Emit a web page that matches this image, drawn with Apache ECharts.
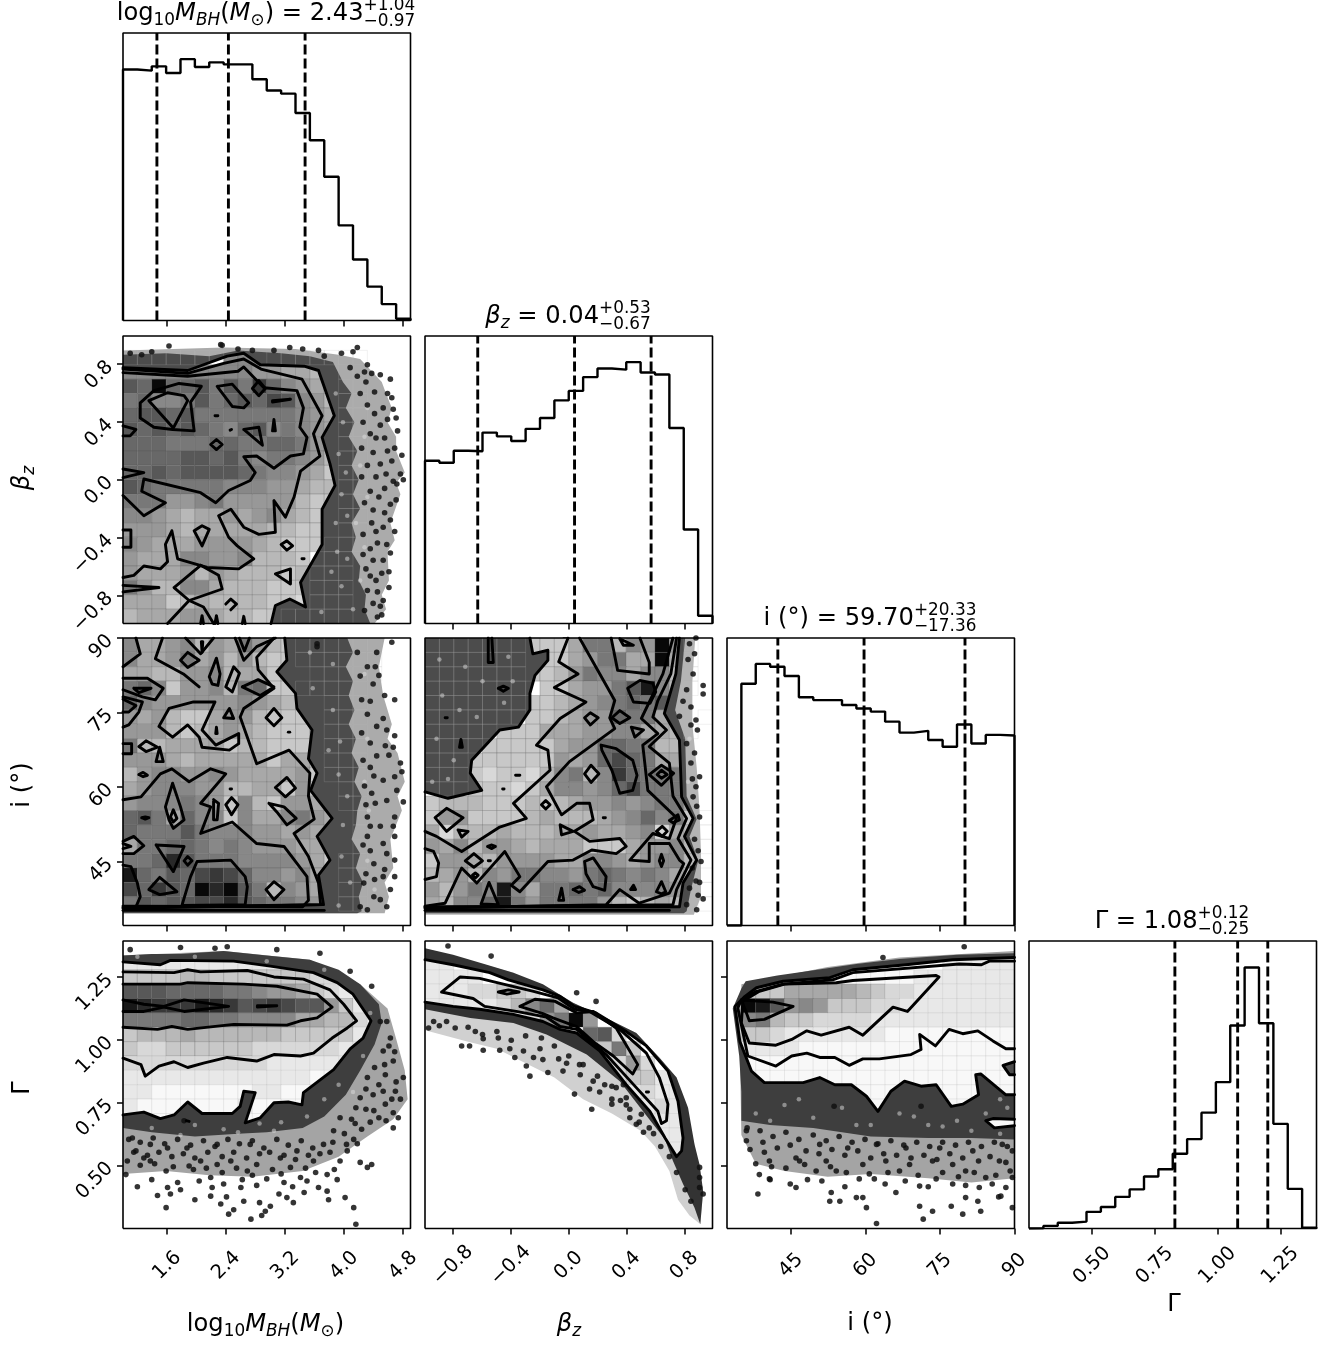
<!DOCTYPE html>
<html><head><meta charset="utf-8">
<style>html,body{margin:0;padding:0;background:#fff}#c{width:1335px;height:1345px}</style>
<script src="https://cdn.jsdelivr.net/npm/echarts@6/dist/echarts.min.js"></script>
</head><body><div id="c"></div><script>
// ---- axis ranges and ticks
const logM_range=[1.0,4.9], beta_range=[-0.995,0.995], incl_range=[32.1,90], gamma_range=[0.249,1.394];
const logM_ticks=[1.6,2.4,3.2,4.0,4.8], logM_labels=["1.6","2.4","3.2","4.0","4.8"];
const beta_ticks=[-0.8,-0.4,0,0.4,0.8], beta_labels=["\u22120.8","\u22120.4","0.0","0.4","0.8"];
const incl_ticks=[45,60,75,90], incl_labels=["45","60","75","90"];
const gamma_ticks=[0.5,0.75,1,1.25], gamma_labels=["0.50","0.75","1.00","1.25"];
// ---- 1D histograms (20 bins, height in % of panel)
const hist_logM=[87.3,86.9,88.4,86.1,90.9,88.2,89.8,89.1,89.1,83.9,80.0,78.9,72.2,62.7,50.0,33.1,21.2,11.8,5.7,0.6];
const hist_beta=[56.6,55.9,60.1,59.9,66.4,65.1,63.5,67.7,71.5,77.6,80.9,85.7,88.7,88.3,90.9,87.3,86.6,68.0,32.7,2.7];
const hist_incl=[0,84.1,91.0,90.0,86.8,79.4,78.4,78.4,76.7,75.5,74.4,70.9,67.1,67.7,64.5,62.2,69.9,63.3,66.3,66.1];
const hist_gamma=[0.1,0.9,2.0,2.4,5.8,7.5,11.0,13.6,18.1,20.6,26.0,31.1,40.3,50.9,70.6,90.8,71.4,36.4,13.8,0.3];
const q_logM=[1.46,2.43,3.47], q_beta=[-0.63,0.04,0.57], q_incl=[42.34,59.70,80.03], q_gamma=[0.83,1.08,1.20];
// ---- 2D histogram densities: one string per row, top row first; hex 0 (white)..f (black), "-" = grid only, "." = empty
const cells_beta_logM=["................","-------777-------","777777777665544--","a9f99a8a8c97654--","89778a89a9ba764--","9aa9a8888888765--","a9a9a9879a78765--","999888998899865--","9999aa9a8788764--","99a9aaaa9877653--","a98888877766544--","888667866666433--","776545565675433--","666545555544333--","76555666654333---","6555776674443---","6555646544434---","8644775444333---","5553454444332---","45556654433-----"];
const cells_incl_logM=["755674658643------","755685646433------","5544667455333-----","897366748933-----","97666666765433---","65643356643333---","66643456543333---","84455553443333---","66654555553553---","46776676555563---","567776644553634--","677787637436654--","9a85977375578653-","9888a87776656543-","5889987876665533-","889da8887777653--","e98a9bcb9776754--","b9ca9fdfa847653--","8a9aabbda988764--","................."];
const cells_incl_beta=["-------333588476f6-","-------333568855f5-","-------33468775774-","--------335668ae74-","-------334567898a64","-------334566988554-","-----3335556677554-","----333335669988443","---3333336569b98554","---3233247847c98885","---33323577679b88853","34443334345667678854","3663333454445679783-","5244454445565567254-","6574665455533356674-","36654666655776567742","4564768877689878753-","64687e7588989777763-","54779e8688886434542-","...................."];
const cells_gamma_logM=["....................","11111111111111","3333443333333221","aaa9999887665321","edcccedcabcbaa631","888899887777554421","34445444444333331","32233333322222211","2222222222111111","1111111111111000","1100000001100000","1000000010000000","0000000000100"];
const cells_gamma_beta=["....................","11","1111","11122332","1111124795","......1268f6",".........309a2","..........12383","............2262",".............2331","..............1211","...............121","...............1111","................11",".................1"];
const cells_gamma_incl=["....................","...............11111","..111000000001111111",".3335555543221111111",".fea6763332211111111",".7843322221111111111",".3321111111000000000",".1111000000000000000",".0000000000000000000",".0000000000000000000",".0000000000000000000",".0000000000000000000"];
// ---- contour vertices, in histogram-bin units (0..20 on each axis), flat x,y lists
const contours_beta_logM=[
[0,17.8,4.5,17.6,7.25,18.6,8.4,18.8,9.55,18,12.6,17.9,13.6,17.6,14.7,14.45,13.85,12.95,14.4,11.1,14.75,9.6,13.85,7.95,13.85,5.5,12.35,2.85,12.7,1.15,11.6,1.7,10.6,1.25,10.3,0],
[0,17.7,4.5,17.4,7,18.1,8.4,18.4,9.6,17.7,12.45,17,13.85,14.45,13.25,13.2,13.7,11.65,12.35,10.6,11.9,8.8,11.3,7.4,10.5,8.55,10.6,6.35,9.45,6.2,8.4,6.7,7.5,7.95,6.65,7.5,7.35,6,7.95,5.4,9.1,4.5,8.05,3.8,5.85,3.9,3.8,4.5,3.4,6.45,2.95,5.5,3.1,4.3,2.6,3.8,1.45,4,0.75,3.35,0,3.2],
[0,17.45,4.5,17.2,8,17.55,8.4,17.85,9.8,16.4,12.1,16.2,12.55,15,12.3,13.65,12.8,12.95,12.55,11.8,11.65,11.65,10.5,10.8,9.3,11.65,8.4,11.6,9.2,10.5,8.85,9.95,7.35,9.25,6.45,8.4,5.4,9.1,1.45,10.05,1.3,9.2,2.95,8.4,1.45,7.5,0,8.9],
[3.1,0,4.6,1.6,5.6,1.15,6.3,0],
[5.4,4.05,6.65,3.35,6.9,2.4,4.6,1.6,3.55,2.5],
[1.2,14.3,1.2,15.35,2.15,16.2,3.9,16.7,5.45,16.5,4.7,15.4,4.95,13.4,3.45,13.5,2.15,13.65],
[1.8,15.5,3.1,16.05,4.25,15.85,4.5,15.5,3.5,13.6],
[6.55,16.5,7.6,16.65,8.75,15.35,8.4,15,7.6,15.1],[9,16.35,9.45,16.9,9.9,16.35,9.45,15.85],
[10.4,15.5,11.65,15.6,10.4,15.4],[6.4,14.45,6.6,14.45],[7.45,13.45,7.55,13.5],[10.4,13.4,10.5,14.2,10.6,13.4,10.5,13.35],
[8.4,13.5,9.45,13.65,9.7,12.4],[0,13.75,0.9,13.5,0.5,13.05,0,13.05],[6.1,12.45,6.5,12.8,6.9,12.45,6.5,12.1],
[0,10.75,1.45,10.5,0,10.15],[0,6.5,0.55,6.5,0.55,5.3,0,5.3],[4.95,6.45,5.5,6.8,6,6.55,5.5,5.4],[11,5.5,11.4,5.75,11.8,5.4,11.4,5.1],
[12.45,4.5,12.6,4.5],[10.6,3.45,11.65,3.8,11.65,2.75],[0,2.65,2.5,2.5,0,2.2],[7.15,1.35,7.5,1.7,7.9,1.35,7.5,0.95],
[5.4,0,5.5,0.55,5.6,0],[6.4,0,6.5,0.55,6.6,0],[8.3,0,8.4,0.5,8.5,0]];
const hole_beta_logM=[0,17.8,4.5,17.6,7.25,18.6,8.4,18.8,9.55,18,12.6,17.9,13.6,17.6,14.7,14.45,13.85,12.95,14.4,11.1,14.75,9.6,13.85,7.95,13.85,5.5,12.35,2.85,12.7,1.15,11.6,1.7,10.6,1.25,10.3,0,0,0];
const solid_beta_logM=[0,18.7,3,18.8,6,18.6,8,19,11,18.8,13,18.6,14.6,18.2,15.3,16.8,15.9,16,15.5,15,16.1,14,15.7,13,16.3,12,15.9,11,16.4,10,16,9,16.5,8,15.9,7,16.2,6,15.9,5,16.5,4,16.4,3,16.9,2,16.8,1,17.2,0,0,0];
const halo_beta_logM=[0,19,7,19.2,12,19.1,15,18.7,16.5,18.4,18,16.8,18.3,16,18.7,15,18.4,14,19,13,19,12,19.6,10.5,19,9.8,19.3,9,18.6,7,18.9,5.8,18.4,5,18.5,3,18,2,18.3,1,17.5,0,0,0];
const points_beta_logM=[3.2,19.3,6.8,19.4,6.9,19.35,8,19.1,9,19,10.5,19,11.6,19.2,12.5,19.1,13.6,19,14,18.6,15.2,18.8,16.3,19.2,16,18.9,0.5,18.8,2,18.9,1.3,18.7,16.8,17.5,17,18,17.3,17.4,17.9,17.3,18.6,17,15.8,17.8,16.3,17.2,16.9,16.8,17.5,16.1,18.1,15,18.7,15.7,19,14.3,18.4,14.2,17.5,14.6,17.9,13.8,18.2,12.9,17.6,12.9,18.9,12.2,18.4,12,17.4,11.9,17.9,11.1,18.7,11.3,19.3,10.4,18.3,10.4,17.6,10.2,19.05,9.7,18.2,9.4,17.8,8.8,18.6,8.3,18.2,7.7,17.4,7.9,18.6,7.2,18.1,6.7,17.6,6.4,18.35,5.5,17.7,5.6,18.1,4.4,17.4,4.4,18,3.5,17.2,3.3,18.5,2.5,17.7,2.2,18.1,1.6,17.4,1.4,17.7,0.45,16.8,0.9,16.5,16,17,15.2,16.7,14,17.2,13.2,16.6,12.2,17,11,16.6,10.2,17.2,9.2,16.8,8.4,17.3,7,16.7,6.2,17.2,5.2,16.7,4.8,16.9,3.8,17.6,3,17,2.3,17.9,1.2,18,0.6,18.4,16,18.8,14.9,19.1,13.4,19.4,11.7,19.5,10,18.8,9.9,19,8.6,18.9,6.4,18.6,4.9,18.5,3.6];
const specks_beta_logM=[14.8,16,15.3,14,15,11.8,15.5,10.5,15.2,9,15.6,7.5,14.8,7,14.9,5,15.6,4.5,14.5,3.6,15.2,2.6,13.8,0.8,16,1,16.5,3,16.8,5.3,16.2,7,17,8.8,16.5,11,16.8,13,17,15];

const contours_incl_logM=[
[11.25,20,11.4,18.45,10.7,17.65,12,16.15,12.1,15.1,13.15,13.6,12.9,11.6,13.5,10.6,13.05,9.4,14.55,7.45,13.5,6.2,14.4,4.55,13.6,3.5,13.95,1.45,0,1.2],
[10.5,20,9.3,18.65,9.4,17.8,10.5,16.5,8.4,15.1,8.15,14.5,9.3,11.25,11.55,12.2,13,10.6,12.9,9,13.3,7.4,11.9,6.4,12.9,4.8,13.6,2.95,13.75,1.45,0,1.25],
[0,8.75,1.25,8.95,2.6,10.55,3.4,10.9,4.6,10,6.1,10.9,7.15,10.55,5.4,8.5,6.1,8.25,5.4,6.4,7.6,7.2,9.3,5.7,11.2,5.5,12.8,3.4,12.9,1.75,12.5,1.3,0,1.35],
[0,1.05,14,1.05],
[0.9,20,1.2,18.9,0,18],[2.75,20,2.25,18.55,4.2,17.5,5.3,16.6],[4,18.45,4.5,19,5.3,18.45,4.5,17.95],[4.35,20,5.4,18.9,6.3,20],[5.45,19.75,5.5,19,5.55,19.75],
[7.8,20,8.4,18.45,9.3,19.4,10.6,20],[8.1,20,8.45,19.1,8.8,20],[6,17.3,6.5,18.6,6.75,17.5,6.6,16.7,6.2,16.8],[7.15,16.6,7.7,18,8.1,17.55,7.6,16.25],
[8.3,16.6,9.4,17.1,10.5,16.6,9.55,16],[0,17.2,1.7,17.2,2.8,16.5,2.25,15.7,1.35,15.9,0,16.4],[0.75,16.5,1.95,16.5,1.1,16.2],
[0,15.9,1.35,15.55,1.1,14.85,0.4,13.95,0,13.8],[0,15.75,0.9,15.3,0.4,14.85,0,14.85],
[2.5,13.85,3.2,15.1,4.9,15.55,6.4,15.55,5.5,13.6,6.45,12.55,8.05,13.35,8.05,12.65,7.4,12.2,5.5,12.4,5.3,13.1,4.5,13.95,3.45,13.1],
[7,14.45,7.4,15.1,7.7,14.4],[6.45,13.35,6.5,13.8,6.55,13.35],[9.95,14.45,10.5,15.1,11.05,14.45,10.5,13.9],[11.5,13.45,11.6,13.45],
[0,12.65,0.6,12.65,0.6,11.95,0,11.95],[1.1,12.45,1.6,12.85,2.4,12.4,1.6,12.1],[2.3,11.4,2.55,12.4,2.8,11.4],[1.1,10.5,1.4,10.65,1.7,10.45,1.4,10.35],
[2.95,8.25,3.45,9.9,4,8.25,4.25,7.35,3.5,6.75,3.2,7.35],[3.3,7.55,3.5,8.05,3.75,7.45,3.5,7.2],[1.3,7.5,1.55,7.55,1.8,7.5,1.55,7.4],
[6.3,8.75,6.65,8.5,6.55,7.35,6.3,7.35],[7.15,8.4,7.55,8.9,8,8.4,7.55,7.7],[7.45,9.5,7.55,9.5],[10.6,9.6,11.4,10.3,12,9.55,11.3,8.95],
[10.15,8.5,11.2,8.25,12.05,7.45,11.4,7,10.7,7.9],[0,5.85,0.75,6.2,1.45,5.55,0.75,5,0,5],[0,5.7,0.55,5.5,0,5.35],[2.3,5.6,4.25,5.5,3.5,3.75],[4.25,4.5,4.5,4.8,4.8,4.5,4.5,4.2],
[4.1,1.4,4.7,3.4,5.15,4.45,7.5,4.55,8.5,3.4,8.65,2.7,8.5,1.45],[1.8,2.5,2.55,3.35,3.75,2.35,2.55,2.15],[9.95,2.5,10.5,3.05,11.2,2.5,10.5,1.8],[0,4.2,0.55,4.1,1,2.95,1.2,2,0.9,1.3]];
const hole_incl_logM=[11.25,20,11.4,18.45,10.7,17.65,12,16.15,12.1,15.1,13.15,13.6,12.9,11.6,13.5,10.6,13.05,9.4,14.55,7.45,13.5,6.2,14.4,4.55,13.6,3.5,13.95,1.45,0,1.2,0,20];
const solid_incl_logM=[0,20,15.6,20,16,19,15.5,18,16,17,15.7,16,16.1,15,15.7,14,16.2,13,15.9,12,16.4,11,16.1,10,16.6,9,16.3,8,16.2,7,15.9,6,16.5,5,16.2,4,16.7,3,16.4,2,16.6,1,16.3,0.85,0,0.85];
const halo_incl_logM=[0,20,18.2,20,17.8,18,18.1,16,18.7,14,18.4,13,19.1,12,19.6,10,19.1,9,19.4,8,18.6,6,18.8,4,18.2,3,18.5,2,18.2,0.85,0,0.85];
const points_incl_logM=[18.7,19.7,17.65,19,17,18,17.55,18,16.3,19,16.5,17.35,17.4,16.8,17.2,15.6,18.9,15.7,18.1,14.4,17.65,13.85,18.35,13.6,18.8,12.4,18.25,12.5,17.65,11.8,18.5,11.85,19.3,11.3,18.9,10.35,19.05,9.4,18.1,10.1,17.45,10.4,18.35,8.7,17.55,8.5,18.9,7.55,18.8,6.9,17.9,6.9,17,7.55,18.1,5.7,17,6.2,18.35,5,17.45,4.3,18.9,4.55,18.1,3.4,16.75,2.95,18.6,2.5,17.45,2,18.35,1.3,16.5,1.3,13.5,19.6,13.5,19.4,16.6,15.7,17,14.7,16.6,13.4,17.2,12.7,16.7,11.5,17.2,11,16.8,9.7,17.3,9.2,16.9,8.4,17.2,6.9,16.7,5.6,17.2,5.2,16.9,3.6,17.5,3.2,17,1.1,17.9,1.8,18.2,16,18.9,13.2,19.4,10.7,19.5,8.6,18.9,6.2,18.9,3.4,18.2,3.9,17.8,17.4];
const specks_incl_logM=[13,19,14.6,18.2,13.2,16.5,14.6,15,15.1,12.8,14.3,12.2,15,10.5,15.6,9,15.3,7,15.2,4.8,15.8,3,15,1.4,16.8,17.5,17,13,16.8,10,17.1,8,17,4.5,17.5,2.5];

const contours_incl_beta=[
[7.3,20,7.5,18.9,8.55,19.15,8.55,18.45,7.65,17.4,7.3,16.15,7.3,15,6.5,13.8,5.2,13.6,3.25,11.5,3.15,10.6,3.95,9.4,1.6,8.85,0,9.3],
[17.7,20,17.45,17.5,16.65,14.75,17.7,12.9,17.85,8.95,18.65,7.45,18.05,6.2,18.9,4.55,17.95,2.95,17.7,1.3,0,1.3],
[9.95,20,9.3,18.35,10.65,17.5,9,16.55,11.2,15.55,9.4,14.4,7.75,12.55,8.55,12.2,8.7,10.8,6.15,8.5,7.05,7.45,5.2,6.85,2.55,5.15,0.8,6.2,0,6.55],
[10.75,20,13.2,15.65,12.85,14.45,13.2,13.7,10.05,11.4,8.45,9.65,9.5,7.7,10.55,8.5,11.45,8.5,11.7,7.35,10.4,6.55,11.45,5.85,13.55,6.05,14,5.5,13.3,5,11.6,5.25,10.3,4.55,8.55,4.45,6.6,2.35,6,2.8,6.6,3.4,5.55,5.15,4.4,3.85,3.6,2.95,2.55,4,1.4,1.55,0,1.35],
[17.5,20,17.1,17.5,16.2,15.65,15.85,14.5,16.8,13.6,15.6,12.45,17,11.3,17.25,9,18.2,7.45,17.6,6.05,18.5,4.55,17.5,2.5,17.25,1.45,0,1.25],
[17.25,20,16.55,17.5,15.05,14.4,16.2,13.35,15.15,12.55,15.5,9.4,17.5,7.5,17,6.05,15.85,6.4,14.25,4.55,15.6,4.45,15.6,5.7,17,5.7,17.7,4.55,18,4.3,17,2.25,14.9,1.55,13.55,2.5,12.6,1.45,0,1.2],
[0,1.05,17,1.05],
[12.95,20,13.4,17.75,15.6,17.5,15.6,18.3,14.95,20],[13.55,19.95,14.5,19.5,13.8,19.5],[4.4,20,4.4,18.3,4.75,18.3,4.65,20],[5.1,16.5,5.45,16.65,5.8,16.5,5.45,16.3],[1.4,14.45,1.55,14.45],[2.4,12.4,2.5,12.95,2.6,12.4,2.5,12.3],
[14.1,16.5,14.95,17.05,15.85,16.85,16.05,16.25,15.65,15.45,14.5,15.55],[11.1,14.45,11.5,14.8,12.05,14.45,11.5,13.95],[13,14.45,13.55,14.95,14.25,14.45,13.55,14.05],[14.35,13.8,15.2,13.6,14.6,13.1],
[12.25,12.55,13.3,12.3,14.45,11.5,14.75,10.45,14.45,9.4,13.55,9.2,13,10.8,12.3,12.2],[11.1,10.55,11.55,11.15,12.1,10.55,11.55,9.95],[15.6,10.5,16.45,11.15,17.3,10.6,16.45,9.75],[16.15,10.5,16.45,10.8,16.85,10.5,16.45,10.25],
[6.3,10.45,6.6,10.45],[5.4,9.5,5.5,9.5],[8.1,8.4,8.4,8.7,8.7,8.4,8.4,8.1],[12.4,7.5,12.55,7.5],[0.7,7.5,1.5,8.15,2.65,7.5,1.5,6.55],[2.3,6.65,3,6.55,2.55,6.15],[9.4,7,10.3,6.55,9.5,6.3],
[17,7.3,17.6,7.7,17.7,7.35,17.25,7.15],[16.1,6.55,16.5,6.9,16.85,6.55,16.5,6.2],[4.35,5.5,4.65,5.6,4.9,5.5,4.65,5.35],[2.8,4.5,3.4,5,4,4.5,3.4,4.05],[4.4,4.5,4.55,4.5],[0,5.35,0.6,5.15,0.95,4.35,0.8,3.4,0,3.2],
[11.1,4.45,11.7,4.7,12.6,3.4,12.5,2.45,11.7,2.7,11.2,3.6],[16.3,4.5,16.45,4.95,16.6,4.5,16.45,4.1],[16.1,2.35,16.45,3.05,16.75,2.35,16.45,2.2],[14.3,2.5,14.5,2.8,14.65,2.5],[3.3,3.5,3.5,3.65,3.7,3.5,3.5,3.3],
[10.3,2.5,10.75,2.7,11.1,2.45,10.7,2.3],[9.3,1.75,9.5,2.6,9.65,1.75],[3.9,1.5,4.45,3,5.1,1.45]];
const hole_incl_beta=[7.3,20,7.5,18.9,8.55,19.15,8.55,18.45,7.65,17.4,7.3,16.15,7.3,15,6.5,13.8,5.2,13.6,3.25,11.5,3.15,10.6,3.95,9.4,1.6,8.85,0,9.3,0,1.3,17.7,1.3,17.95,2.95,18.9,4.55,18.05,6.2,18.65,7.45,17.85,8.95,17.7,12.9,16.65,14.75,17.45,17.5,17.7,20];
const solid_incl_beta=[0,20,18.1,20,17.8,17,17.4,15,18.1,13,18.2,9,18.9,7.4,18.4,6.2,19,4.5,18.5,2.5,18.2,1,18,0.85,0,0.85];
const halo_incl_beta=[0,20,18.8,20,18.6,17,18.6,14,18.9,11,19.1,8,19.2,5,19.2,2,18.7,0.75,0,0.75];
const points_incl_beta=[18.85,20,19.35,16.7,19.35,16.1,18.65,17.5,18.4,19.6,18.75,18.9,18.85,14.3,18.5,13.95,18.95,13.6,18.2,12.65,18.75,12,18.5,11.3,19.1,10.35,18.85,9.65,18.65,8.95,19.1,7.55,19.35,1.85,19,2.1,18.2,1.45,18.85,3.1,19.2,4.45,18.4,2.6,18.75,6,18.2,16.4,17.7,14.55,17.95,15.6,18.3,18.5,18.5,15.2,18.6,10.2,18.9,8.3,19,5.2,19.1,3,18.6,4,18.9,1.1];
const specks_incl_beta=[1,18.5,2.8,18,4,17,1.2,16,2.4,15,3.6,14.5,5.8,18.7,6.1,17,5.5,15.5,0.8,13,2,11.5,1.6,10.2,0.5,10,18.4,13,18.3,10];

const contours_gamma_logM=[
[0,18.55,2.6,18.35,3.3,18.65,7.7,18.6,10.25,18.25,13.25,17.8,14.9,17.1,16,16.3,17.25,14.45,16.7,13.25,15.8,12.5,14.65,11.05,12.55,9.45,12.45,8.6,11.5,8.8,10.5,8.75,9.55,7.7,8.5,7.35,9.2,9.45,8.4,9.55,8.15,8.5,7.6,8,5.5,8,4.5,8.8,3.55,7.9,2.6,7.65,1.45,8.1,0,7.9],
[0,17.85,3.55,17.8,4.5,18,5.4,17.85,8.65,17.95,10.5,17.5,12.55,17.35,14.4,16.6,15.35,15.6,16.25,14.45,15.6,13.95,14.55,13.25,13.25,12.2,12.35,12,10.5,12.1,9.3,11.65,7.25,11.9,5.6,11.5,4.5,11.2,3.55,11.6,2.5,11.3,1.55,10.6,1.25,11.4,0,11.85],
[0,17,4,17,4.5,17.1,8.4,17,10.7,16.85,13.5,16.3,14.55,15.4,13.5,14.65,12.35,14.45,11.4,14.15,7.7,14.2,4.5,13.85,3.4,14.05,2.4,13.85,0,14],
[0,15.9,1.45,15.6,2.85,15.45,4.25,15.9,7.35,15.45,4.25,15.1,2.85,15.4,1.45,15.1,0,15.1],
[9.35,15.5,10.7,15.5,9.35,15.4],[4.4,7.5,4.6,7.45]];
const solid_gamma_logM=[0,19,2,19.1,4,19.1,7,19.3,10,19,13,18.7,15,18,16.5,17,17.8,15.6,18,14.3,17.5,12.8,16.5,11,15.5,9.3,14,7.8,12.5,7,10,6.7,8,6.6,5,6.4,2,6.7,0,7];
const halo_gamma_logM=[0,19,7,19.3,13,18.7,16.5,17,18.4,15.3,19,13.2,19.6,11,19.8,9,18.8,7.6,17,6.4,15,5,12.5,4,9,3.6,6,3.7,3,4,0,3.8];
const points_gamma_logM=[0.2,3.75,0.75,5.3,0.65,6.3,1.45,4.9,1.9,4.7,3,4,4.6,4.35,3.1,2.85,3.3,2.4,4,2.7,3,1.45,6.1,3.55,6.2,2.85,6.1,2.25,6.8,1.7,7.7,1.3,7.35,1,8.2,2.85,8.4,1.9,8.9,0.65,9.65,0.9,9.9,1.2,10.25,1.55,10.85,2.4,11.4,2.15,11.85,1.8,12.6,2.5,13.6,2.85,14.2,2.6,14.3,2,15.45,2.15,16.05,1.45,16.2,0.3,16.5,4.6,17,4.25,17.3,4.45,15.55,5.85,16.05,6.2,16.15,7.3,18.8,7,19.15,7.7,18.8,8.05,18.25,8.65,17.45,8.2,18.1,9.55,18.95,9.55,18.25,10.7,18.8,11.65,18.1,12.35,17.9,14.4,18.6,13.25,17,10.5,16.5,9.1,15.1,7.7,14.65,6.8,15.1,4.7,14.2,3.75,12.35,3.55,11.65,4.25,10,3.45,9.3,4.45,8.65,4,7.5,4.7,6.55,4.45,5.4,4.7,4.45,5.6,3.1,5.6,1.9,5.85,13.25,4.7,12.1,5.4,10.95,4.9,13.95,5.85,8.85,5.85,6.55,5.85,4.25,7.5,0.5,19.4,7.25,19.6,6.4,19.5,4,19.55,10.7,19.4,13.7,19.15,15.8,17.9,17.3,16.85,18.35,14.4,18.9,12.3,19.5,10.5,0.4,6.2,1.2,6,2.1,6.3,2.9,5.9,3.8,6.2,4.7,5.8,5.6,6.1,6.4,5.7,7.3,6.2,8.1,5.9,9,6.1,9.8,5.6,10.7,6.2,11.5,5.8,12.4,6.1,13.2,5.6,0.9,5.4,1.7,5.1,2.5,5.3,3.4,5,4.2,5.2,5,4.9,5.9,5.3,6.9,5,7.7,5.3,8.6,4.9,9.5,5.2,10.2,5.3,11.2,5.1,12,4.8,12.9,5.1,13.7,5.2,14.4,5.3,0.3,4.7,1.2,4.4,2.2,4.5,3.5,4.3,4.9,4.1,5.8,4.2,6.9,3.9,7.9,4.2,9,3.7,10.4,4.1,11,3.8,12.7,4.2,13.4,3.9,14.7,4.1,15.4,6.6,15.9,7.6,16.6,6.9,17.2,7.4,16.9,8.3,17.8,7.7,18.3,7.5,16.2,8.4,17.4,9.3,18.7,9,17.8,10,16.9,9.7,17.5,11.2,18.2,11.4,18.5,12.7,19,10.2,19.3,9,14.6,6,15.6,5.4,16.3,5.9,2,3.4,3.8,3.2,5.3,3.3,7,3.1,8.3,3.4,9.3,3,11.2,3.2,12.8,3.3,14.9,3.4,1,2.9,2.4,2.3,5,2,7.2,2.2,9.5,1.8,11.8,2.9];
const specks_gamma_logM=[2,7,5,7.2,7,6.9,9.5,7.3,11,7.4,12.8,7.8,14,9,15,10,16.7,12,17.2,15,14,18,10,18.6,5,18.9,1,18.9,4,6.5,8,6.7,10.5,6.8,16,9.5];

const contours_gamma_beta=[
[0,18.7,1.95,18.35,4.5,17.8,5.8,17.3,8.2,16.6,9.4,16.15,10.4,15.45,11.9,15,14,13.7,15.4,12.7,16.9,10.95,17.6,8.85,17.95,6.3,17.85,5.4,17.5,5,16.7,6.3,15.65,8.15,14,10,12.15,12.35,10.55,13.6,9.4,13.85,8.2,14.4,6.15,14.9,3.8,15.25,1.95,15.45,0,15.75],
[1.15,16.45,2.45,17.5,3.8,17.4,5.45,17,7.55,16.5,9.25,16.05,10.4,15.25,11.45,15.1,13.55,13.85,15.4,12.2,16.3,10.5,16.9,8.65,16.8,7.5,16.45,7.3,16.2,8.15,14.7,9.8,12.6,12.1,10.55,13.85,9.4,14.05,8.45,14.7,6.35,15.1,4.15,15.45,3.35,16],
[6.6,15.45,7.65,15.95,9.05,15.8,10.55,15,11.7,15.1,13.3,13.95,14.8,11.4,14.45,10.75,13.1,12,11.7,13,10.55,14.05,8.9,14.65,8.2,14.95],
[5.1,16.45,5.8,16.6,6.55,16.45,5.7,16.3],[15.4,9.5,15.55,9.5]];
const solid_gamma_beta=[0,19.5,1.95,19.05,4.3,18.35,6.15,17.8,8.2,17,10.3,15.7,12.6,14.65,14.7,13.6,16.3,11.9,17.5,10.5,18.3,8.4,18.75,5.85,19.1,4.45,19.35,2.6,19.15,0.3,18.75,1.45,17.95,3.1,17.25,4.7,16.7,6.2,15.6,7.6,13.55,10.25,11.25,12.1,8.45,13.5,6.15,14.3,3.15,14.65,0,15.25];
const halo_gamma_beta=[0,19.5,6.15,17.8,10.3,15.7,14.7,13.6,17.5,10.5,18.75,5.85,19.35,2.6,19.15,0.3,18.4,0.9,17.6,2,17,4,16,5.7,15,6.8,13,8,11,9,9,10.5,7,11.5,5,12.5,3,13,0,13.8];
const points_gamma_beta=[2.55,12.7,3.1,12.7,4.05,12.4,5.2,12.4,5.9,12.5,4.05,13.2,5.1,13.25,0.6,14.4,1.5,14.4,0.25,13.95,2.1,13.95,3.5,13.7,6.25,11.9,6.85,12.35,7.55,11.9,8.2,11.75,8.1,13.25,7.05,11.3,7.3,10.6,8.55,10.85,9.6,10.95,9.85,11.5,10.4,9.35,11.7,10.25,11.45,9.7,12.15,9.5,13,9,13,8.65,13.8,10,14,9.1,14.25,8.3,14.25,7.7,15.05,7.95,15.6,7,11.6,8.3,14.7,7.25,10.75,11.4,13.3,9.8,19.1,4.25,19.1,3.55,19.35,2.4,19.1,2.85,10.55,16.4,11.9,15.8,1.6,19.65,4.6,18.95,1,14.1,3,14,5,13.7,7,13.4,9,12.7,10,12,11,11.4,12,10.6,13,9.9,14,8.6,14.9,7.4,15.9,6.6,16.4,5.7,17,5,17.5,3.9,18.1,2.7,18.5,1.9,6,13.1,4,13.5,8,12.5,9.3,11.8,10.8,10.7,12.5,10,13.6,8.9,15.2,6.7];
const specks_gamma_beta=[];

const contours_gamma_incl=[
[20,18.85,15.7,18.7,12.45,18.35,8.75,18,7.15,17.45,3.9,17.2,2.05,16.75,1.25,16.15,0.55,15.45,0.9,13,1.7,10.95,2.6,10.15,5.3,10.15,6.45,10.5,7.5,10,8.65,10,9.7,9.2,10.5,8.15,11.4,9.55,12.35,10.25,13.5,9.9,14.55,10,15.6,8.5,16.4,8.65,17.5,9.3,17.3,10.7,17.65,10.75,19.4,9.3,20,9.3],
[20,18.6,18.25,18.6,17.7,18.35,16.15,18.4,8.75,17.8,7.35,17.3,3.9,17,2.05,16.5,1,15.9,0.75,15.35,1.45,12,3.4,11.3,4.5,12,5.55,12.2,6.45,11.9,7.5,11.9,8.5,11.35,9.45,11.8,10.6,11.8,12.8,12.1,13.5,12.45,13.4,13.5,14.5,12.7,15.45,13.85,16.4,13.55,17.45,13.75,18.5,13.05,19.4,12.5,20,12.5],
[14.75,17.5,14.55,17.6,8.75,17.25,7.6,17.1,4,17,2.25,16.5,1.1,15.8,1,14.3,1.55,12.9,3.4,12.75,4.5,13.15,5.55,13.75,6.55,13.45,8.5,14,9.45,13.45,11.55,15.4,12.55,15.1],
[1,15.9,3.2,15.75,4.6,15.45,2.6,14.55,1.55,14.45,1.35,15],
[20,7.6,18.5,7.65,18,7.5,18.6,7,20,7.15],[20,11.6,19.2,11.35,19.65,10.7,20,10.7]];
const hole_gamma_incl=[20,18.85,15.7,18.7,12.45,18.35,8.75,18,7.15,17.45,3.9,17.2,2.05,16.75,1.25,16.15,0.55,15.45,0.9,13,1.7,10.95,2.6,10.15,5.3,10.15,6.45,10.5,7.5,10,8.65,10,9.7,9.2,10.5,8.15,11.4,9.55,12.35,10.25,13.5,9.9,14.55,10,15.6,8.5,16.4,8.65,17.5,9.3,17.3,10.7,17.65,10.75,19.4,9.3,20,9.3];
const solid_gamma_incl=[1,16.7,1.3,17.2,3.5,17.6,7,18.1,9,18.4,12,18.75,16,19.05,20,19.15,20,6.2,17,6.3,14,6.3,10,6.4,6,7,3,7.2,1,7.5,1,9.5,0.85,12,0.4,15.3];
const halo_gamma_incl=[1,17,7,18.2,12,18.85,20,19.3,20,3.5,17,3.2,14,3.5,10,3.8,7,3.6,4,4,2,4.5,1,6.5,0.9,12];
const island_white_gamma_incl=[20,7.6,18.5,7.65,18,7.5,18.6,7,20,7.15];
const island_dark_gamma_incl=[20,11.6,19.2,11.35,19.65,10.7,20,10.7];
const points_gamma_incl=[2.15,2.4,2.25,3.75,2.95,3.45,2.95,4.7,4.8,2.85,5.05,4.7,6.9,4.7,7.6,4,7.45,8.5,7.25,2.5,7.85,1.9,9,2.15,9.7,1.45,10.4,0.35,9.2,3.45,10.25,3.45,11.75,2.5,13.4,1.55,14.3,1.2,13.65,0.65,15.6,1.55,16.4,1,16.6,2.15,17.45,1.9,17.65,1.2,19.05,2.25,19.85,1.45,18.45,3.1,19.4,2.85,18,3.55,16.6,4,15.7,4.45,14.55,3.45,13.4,2.95,14.3,4.7,12.7,4.45,11.05,4.7,9.45,4.45,8.4,5.6,6.45,5.85,4.8,4.9,5.4,4.45,10.4,5.85,12.45,5.6,14.8,5.6,17.1,5.4,18.95,4.7,19.85,5.4,19.15,5.85,1.35,6.8,1.35,6.1,2.6,5.3,13.5,8.5,19.85,3.55,15.7,3.1,17.55,2.85,9.45,2.15,7.15,1.9,16.5,19.6,10.85,18.85,1.4,7,2.3,6.8,3.2,6.4,4.1,6.7,5,6.2,6,6.5,6.9,6.1,7.8,6.4,8.7,6,9.6,6.2,10.5,5.9,11.4,6.1,12.3,5.8,13.2,6,14.1,5.7,15,6,15.9,5.8,16.8,6,17.7,5.7,18.6,6,19.5,5.7,1.6,5.5,2.5,6,3.5,5.6,4.4,5.8,5.5,5.4,6.4,5.2,7.3,5.5,8.2,5.1,9.1,5.4,10,4.9,10.9,5.2,11.8,5.1,12.8,4.9,13.7,5.1,14.6,4.8,15.5,5.2,16.4,4.9,17.5,4.7,18.3,5,19.4,4.6,2,4.5,3.1,4.3,4.1,4.2,6.2,4,7.2,4.3,8.3,3.9,9.9,3.8,11.2,3.9,12,4,13.3,3.7,15,3.9,16.1,3.6,17.2,3.9,18.7,3.7,19.7,4,3,3.4,4.4,3.1,5.6,3.4,6.6,3.3,8.2,2.9,11,3.1,12.4,3.3,14,2.9,16.6,3,18.9,2.2];
const specks_gamma_incl=[2,8,4,8.6,6,7.7,8,8.4,10,7.2,12,8,14,7.2,16,7.5,18,8,19,9,3,7.5,5,9,9,7.2,13,7.8,15,7.1,17,6.8,19.5,8.4,19,6.6];

// ---- layout
const colX=[123,425,727,1029], rowY=[33,336,638,941], SIZE=287.5;
const FONT='"DejaVu Sans"';
const axes=[
 {range:logM_range,ticks:logM_ticks,labels:logM_labels},
 {range:beta_range,ticks:beta_ticks,labels:beta_labels},
 {range:incl_range,ticks:incl_ticks,labels:incl_labels},
 {range:gamma_range,ticks:gamma_ticks,labels:gamma_labels}];
const pairs=f=>{const o=[];for(let i=0;i<f.length;i+=2)o.push([f[i],f[i+1]]);return o;};
const toVal=(r,b)=>r[0]+b*(r[1]-r[0])/20;

const grids=[],xAxes=[],yAxes=[],series=[];
const tickStyle={length:6,lineStyle:{color:'#000',width:1.5}};
function addGrid(col,row,isHist){
  const idx=grids.length;
  grids.push({left:colX[col],top:rowY[row],width:SIZE,height:SIZE,containLabel:false,show:false});
  const xa=axes[col], ya=isHist?{range:[0,100]}:axes[row];
  xAxes.push({type:'value',gridIndex:idx,min:xa.range[0],max:xa.range[1],scale:true,splitLine:{show:false},axisLine:{show:false},
    axisTick:{show:true,customValues:xa.ticks,...tickStyle},
    axisLabel:{show:row===3,customValues:xa.ticks,rotate:45,align:'center',verticalAlign:'middle',margin:37,fontFamily:FONT,fontSize:19.5,color:'#000',
      formatter:v=>{let k=xa.ticks.findIndex(t=>Math.abs(t-v)<1e-6);return k<0?'':xa.labels[k];}}});
  yAxes.push({type:'value',gridIndex:idx,min:ya.range[0],max:ya.range[1],scale:true,splitLine:{show:false},axisLine:{show:false},
    axisTick:{show:!isHist,customValues:isHist?[]:ya.ticks,...tickStyle},
    axisLabel:{show:!isHist&&col===0,customValues:isHist?[]:ya.ticks,rotate:45,align:'right',verticalAlign:'middle',margin:13,fontFamily:FONT,fontSize:19.5,color:'#000',
      formatter:v=>{if(isHist)return '';let k=ya.ticks.findIndex(t=>Math.abs(t-v)<1e-6);return k<0?'':ya.labels[k];}}});
  const xr=xa.range,yr=ya.range;
  series.push({type:'line',xAxisIndex:idx,yAxisIndex:idx,data:[[xr[0],yr[0]],[xr[1],yr[0]],[xr[1],yr[1]],[xr[0],yr[1]],[xr[0],yr[0]]],
    showSymbol:false,symbol:'none',clip:false,silent:true,animation:false,z:9,lineStyle:{color:'#000',width:1.6}});
  return idx;
}
function addHist(col,vals,q){
  const idx=addGrid(col,col,true), r=axes[col].range, pts=[[r[0],0]];
  vals.forEach((v,i)=>{pts.push([toVal(r,i),v]);pts.push([toVal(r,i+1),v]);});
  pts.push([r[1],0]);
  series.push({type:'line',xAxisIndex:idx,yAxisIndex:idx,data:pts,showSymbol:false,symbol:'none',silent:true,animation:false,z:5,lineStyle:{color:'#000',width:2.4}});
  q.forEach(v=>series.push({type:'line',xAxisIndex:idx,yAxisIndex:idx,data:[[v,0],[v,100]],showSymbol:false,symbol:'none',silent:true,animation:false,z:6,
    lineStyle:{color:'#000',width:2.9,type:[10,4]}}));
}
function polySeries(idx,pts,color,z){
  return {type:'custom',coordinateSystem:'cartesian2d',xAxisIndex:idx,yAxisIndex:idx,data:[pts[0]],encode:{x:0,y:1},silent:true,animation:false,z,
    renderItem:(p,api)=>({type:'polygon',shape:{points:pts.map(q=>api.coord(q))},style:{fill:color}})};
}
const area=a=>{let s=0;a.forEach((p,i)=>{const q=a[(i+1)%a.length];s+=p[0]*q[1]-q[0]*p[1];});return s;};
function ring(outer,inner){
  const hole=(area(outer)>0)===(area(inner)>0)?inner.slice().reverse():inner;
  return outer.concat([outer[0]],hole,[hole[0]]);
}
function addPanel(col,row,d){
  const idx=addGrid(col,row,false), xr=axes[col].range, yr=axes[row].range;
  const V=f=>pairs(f).map(p=>[toVal(xr,p[0]),toVal(yr,p[1])]);
  const fill=[],grid=[];
  d.cells.forEach((s,k)=>{const ry=19-k;[...s].forEach((c,i)=>{
    if(c==='.')return;const rec=[toVal(xr,i),toVal(yr,ry),toVal(xr,i+1),toVal(yr,ry+1)];
    if(c==='-')grid.push(rec);else fill.push(rec.concat(parseInt(c,16)));});});
  const cellRect=(api,style)=>{const a=api.coord([api.value(0),api.value(3)]),b=api.coord([api.value(2),api.value(1)]);
    return {type:'rect',shape:{x:a[0],y:a[1],width:b[0]-a[0],height:b[1]-a[1]},style};};
  series.push({type:'custom',coordinateSystem:'cartesian2d',xAxisIndex:idx,yAxisIndex:idx,data:fill,encode:{x:[0,2],y:[1,3]},silent:true,animation:false,z:2,
    renderItem:(p,api)=>{const v=api.value(4),g=Math.max(0,248-16*v);return cellRect(api,{fill:`rgb(${g},${g},${g})`,stroke:`rgba(90,90,90,${v<=2?0.1:0.33})`,lineWidth:0.8});}});
  const hole=V(d.hole);
  const rect=[[xr[0],yr[0]],[xr[1],yr[0]],[xr[1],yr[1]],[xr[0],yr[1]]];
  series.push(polySeries(idx,ring(rect,hole),'#fff',3));
  series.push(polySeries(idx,ring(V(d.halo),hole),d.haloColor,4));
  series.push(polySeries(idx,ring(V(d.solid),hole),d.solidColor,5));
  (d.patches||[]).forEach(p=>series.push(polySeries(idx,V(p.pts),p.color,5.5)));
  if(grid.length)series.push({type:'custom',coordinateSystem:'cartesian2d',xAxisIndex:idx,yAxisIndex:idx,data:grid,encode:{x:[0,2],y:[1,3]},silent:true,animation:false,z:6,
    renderItem:(p,api)=>cellRect(api,{fill:'none',stroke:'rgba(185,185,185,0.25)',lineWidth:0.8})});
  if(d.specks.length)series.push({type:'scatter',xAxisIndex:idx,yAxisIndex:idx,data:V(d.specks),symbolSize:4.5,silent:true,animation:false,z:6.5,itemStyle:{color:'#ddd',opacity:0.5}});
  series.push({type:'scatter',xAxisIndex:idx,yAxisIndex:idx,data:V(d.points),symbolSize:5.6,silent:true,animation:false,z:7,itemStyle:{color:'#111',opacity:0.85}});
  d.contours.forEach(f=>{
    const raw=pairs(f), onEdge=p=>p[0]<=0.01||p[0]>=19.99||p[1]<=0.01||p[1]>=19.99;
    const pts=raw.slice();
    if(!onEdge(raw[0])&&!onEdge(raw[raw.length-1])&&!(raw[raw.length-1][1]<1.1))pts.push(raw[0]);
    series.push({type:'line',xAxisIndex:idx,yAxisIndex:idx,data:pts.map(p=>[toVal(xr,p[0]),toVal(yr,p[1])]),showSymbol:false,symbol:'none',silent:true,animation:false,z:8,
      lineStyle:{color:'#000',width:2.9,join:'round',cap:'round'}});
  });
}
addHist(0,hist_logM,q_logM);
addHist(1,hist_beta,q_beta);
addHist(2,hist_incl,q_incl);
addHist(3,hist_gamma,q_gamma);
addPanel(0,1,{cells:cells_beta_logM,contours:contours_beta_logM,hole:hole_beta_logM,solid:solid_beta_logM,halo:halo_beta_logM,points:points_beta_logM,specks:specks_beta_logM,solidColor:'#4c4c4c',haloColor:'#ababab'});
addPanel(0,2,{cells:cells_incl_logM,contours:contours_incl_logM,hole:hole_incl_logM,solid:solid_incl_logM,halo:halo_incl_logM,points:points_incl_logM,specks:specks_incl_logM,solidColor:'#4c4c4c',haloColor:'#ababab'});
addPanel(1,2,{cells:cells_incl_beta,contours:contours_incl_beta,hole:hole_incl_beta,solid:solid_incl_beta,halo:halo_incl_beta,points:points_incl_beta,specks:specks_incl_beta,solidColor:'#4c4c4c',haloColor:'#b4b4b4'});
addPanel(0,3,{cells:cells_gamma_logM,contours:contours_gamma_logM,hole:contours_gamma_logM[0],solid:solid_gamma_logM,halo:halo_gamma_logM,points:points_gamma_logM,specks:specks_gamma_logM,solidColor:'#3e3e3e',haloColor:'#a4a4a4'});
addPanel(1,3,{cells:cells_gamma_beta,contours:contours_gamma_beta,hole:contours_gamma_beta[0],solid:solid_gamma_beta,halo:halo_gamma_beta,points:points_gamma_beta,specks:specks_gamma_beta,solidColor:'#333333',haloColor:'#d0d0d0'});
addPanel(2,3,{cells:cells_gamma_incl,contours:contours_gamma_incl,hole:hole_gamma_incl,solid:solid_gamma_incl,halo:halo_gamma_incl,points:points_gamma_incl,specks:specks_gamma_incl,solidColor:'#3e3e3e',haloColor:'#a4a4a4',
  patches:[{pts:island_white_gamma_incl,color:'#f8f8f8'},{pts:island_dark_gamma_incl,color:'#4c4c4c'}]});

// ---- math-style text, set as real text pieces
const mctx=document.createElement('canvas').getContext('2d');
const fnt=(s,it)=>`${it?'italic ':''}${s}px ${FONT}`;
const tw=(t,s,it)=>{mctx.font=fnt(s,it);return mctx.measureText(t).width;};
function mathText(cx,by,pieces,rot){
  const S=24.2,s=16.9;
  const lay=[];let x=0;
  pieces.forEach(p=>{
    if(p.sup!==undefined){
      lay.push({t:p.sup,x,sz:s,dy:-10});lay.push({t:p.sub2,x,sz:s,dy:6});
      x+=Math.max(tw(p.sup,s),tw(p.sub2,s));
    }else{
      const sz=p.sub?s:S;
      lay.push({t:p.t,x,sz,dy:p.sub?4.6:0,it:p.it});x+=tw(p.t,sz,p.it);
    }});
  return {type:'group',x:cx,y:by,rotation:rot||0,silent:true,z:20,children:lay.map(l=>({type:'text',x:l.x-x/2,y:l.dy-0.36*l.sz,
    style:{text:l.t,font:fnt(l.sz,l.it),fill:'#000',align:'left',verticalAlign:'middle'}}))};
}
const label_logM=[{t:'log'},{t:'10',sub:1},{t:'M',it:1},{t:'BH',it:1,sub:1},{t:'('},{t:'M',it:1},{t:'\u2299',sub:1},{t:')'}];
const label_beta=[{t:'\u03b2',it:1},{t:'z',it:1,sub:1}];
const label_incl=[{t:'i (\u00b0)'}];
const label_gamma=[{t:'\u0393'}];
const titles=[
 {cx:266,y:22,p:label_logM,v:' = 2.43',up:'+1.04',dn:'\u22120.97'},
 {cx:568,y:325,p:label_beta,v:' = 0.04',up:'+0.53',dn:'\u22120.67'},
 {cx:870,y:627,p:label_incl,v:' = 59.70',up:'+20.33',dn:'\u221217.36'},
 {cx:1172,y:930,p:label_gamma,v:' = 1.08',up:'+0.12',dn:'\u22120.25'}];
const elements=titles.map(t=>mathText(t.cx,t.y,t.p.concat([{t:t.v},{sup:t.up,sub2:t.dn}])));
elements.push(mathText(265.5,1333,label_logM),mathText(569,1333,label_beta),mathText(870,1332,label_incl),mathText(1174,1313,label_gamma));
elements.push(mathText(31,478,label_beta,Math.PI/2),mathText(31,785,label_incl,Math.PI/2),mathText(31,1088,label_gamma,Math.PI/2));

const chart=echarts.init(document.getElementById('c'),null,{renderer:'canvas'});
chart.setOption({backgroundColor:'#fff',animation:false,grid:grids,xAxis:xAxes,yAxis:yAxes,series,graphic:{elements}});
</script></body></html>
